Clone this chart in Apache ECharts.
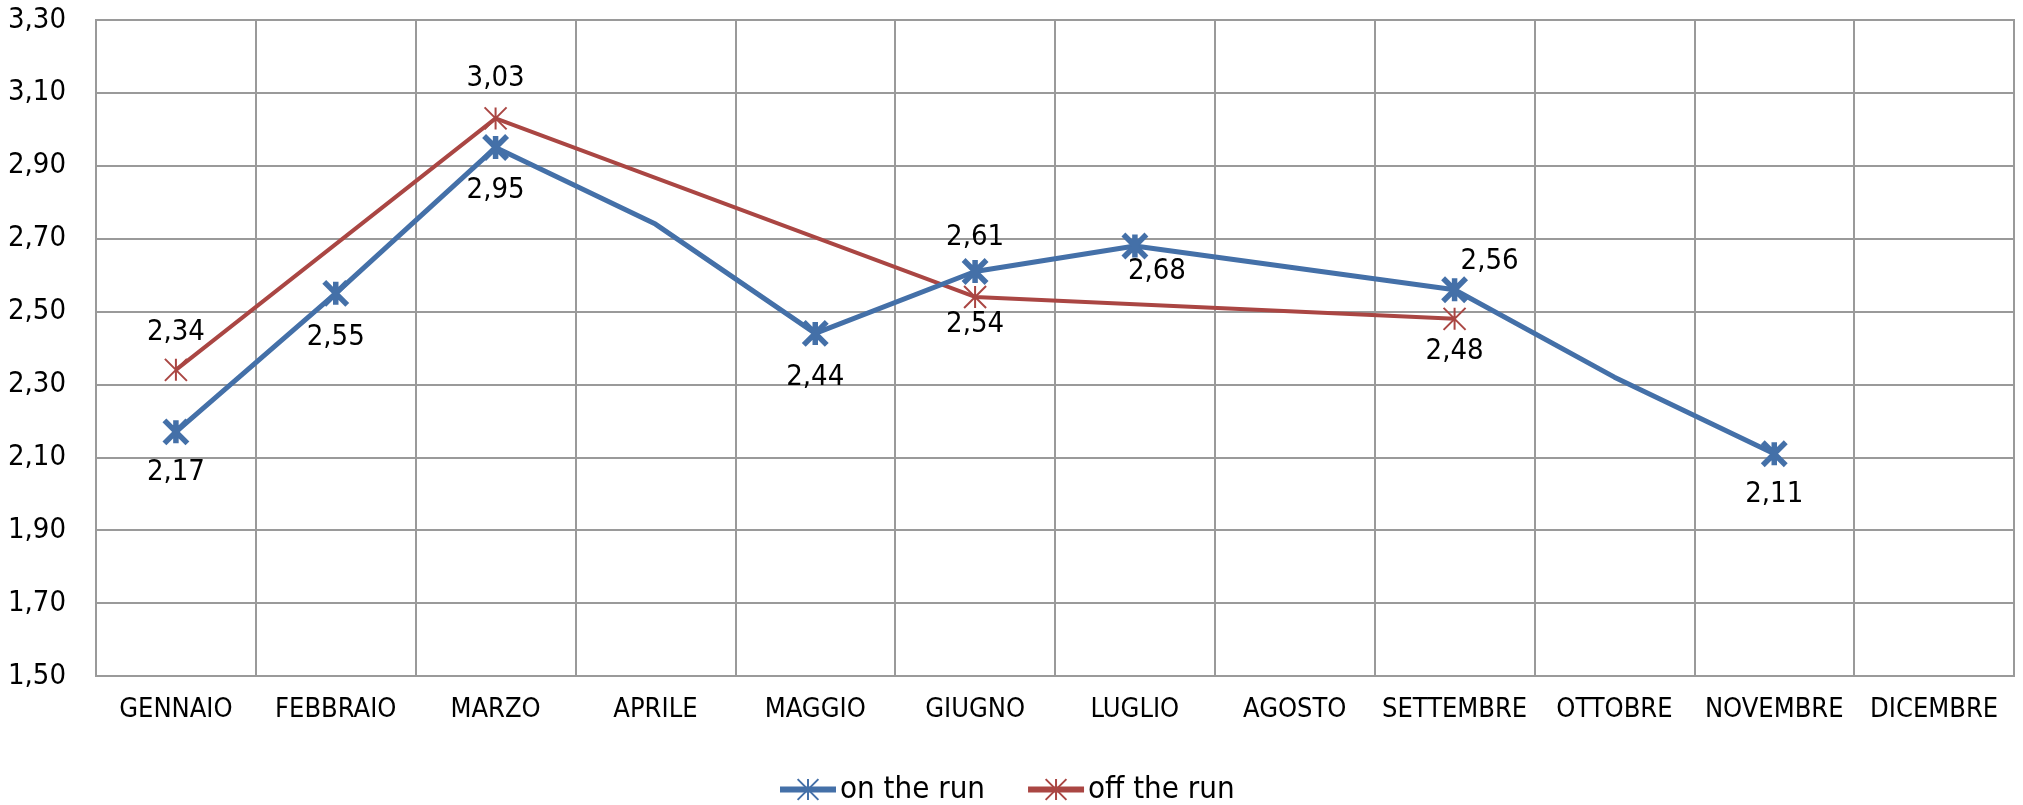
<!DOCTYPE html>
<html>
<head>
<meta charset="utf-8">
<script src="https://cdn.jsdelivr.net/npm/echarts@6/dist/echarts.min.js"></script>
<style>
html,body{margin:0;padding:0;background:#fff;}
#chart{width:2023px;height:805px;}
</style>
</head>
<body>
<div id="chart"></div>
<script>
const categories = ['GENNAIO','FEBBRAIO','MARZO','APRILE','MAGGIO','GIUGNO','LUGLIO','AGOSTO','SETTEMBRE','OTTOBRE','NOVEMBRE','DICEMBRE'];
const onTheRun  = [2.17, 2.55, 2.95, 2.74, 2.44, 2.61, 2.68, null, 2.56, 2.32, 2.11, null];
const offTheRun = [2.34, null, 3.03, null, null, 2.54, null, null, 2.48, null, null, null];
const seriesNames = ['on the run', 'off the run'];
// points drawn without marker / label
const onUnmarked = [3, 9];
// label placement per point: [position, distance, dx, dy]
const onLabelPlace = {0:['bottom',12,0,0],1:['bottom',15,0,0],2:['bottom',14,0,0],4:['bottom',15,0,0],5:['top',5,0,0],6:['bottom',-3,22,0],8:['top',3,35,4],10:['bottom',12,0,0]};
const offLabelPlace = {0:['top',11,0,0],2:['top',13,0,0],5:['bottom',1,0,0],8:['bottom',6,0,0]};

const FONT = "'DejaVu Sans Condensed', 'DejaVu Sans', sans-serif";
const BLUE = '#4470a8';
const RED = '#aa4643';
const fmt = v => Number(v).toFixed(2).replace('.', ',');
const STAR = 'path://M0,0L20,20M20,0L0,20M10,0L10,20';

function build(values, place, unmarked) {
  return values.map((v, i) => {
    if (v === null) return null;
    const item = { value: v };
    if (unmarked.indexOf(i) >= 0) {
      item.symbol = 'none';
      item.label = { show: false };
    } else if (place[i]) {
      const p = place[i];
      item.label = { show: true, position: p[0], distance: p[1], offset: [p[2], p[3]] };
    }
    return item;
  });
}

const chart = echarts.init(document.getElementById('chart'), null, {renderer: 'canvas'});
chart.setOption({
  animation: false,
  textStyle: { fontFamily: FONT },
  grid: { left: 96, right: 9, top: 20, bottom: 129, show: true, borderColor: '#9a9a9a', borderWidth: 2 },
  legend: {
    left: 772, top: 769,
    itemWidth: 56, itemHeight: 26, itemGap: 40,
    textStyle: { fontFamily: FONT, fontSize: 31, color: '#000', padding: [0, 0, 0, -1] },
    data: [
      { name: seriesNames[0], lineStyle: { width: 6 } },
      { name: seriesNames[1], lineStyle: { width: 6 } }
    ]
  },
  xAxis: {
    type: 'category',
    data: categories,
    boundaryGap: true,
    axisLine: { show: true, lineStyle: { color: '#9a9a9a', width: 2 } },
    axisTick: { show: false },
    splitLine: { show: true, lineStyle: { color: '#9a9a9a', width: 2 } },
    axisLabel: { color: '#000', fontSize: 27, fontFamily: FONT, margin: 20, interval: 0 }
  },
  yAxis: {
    type: 'value',
    min: 1.5, max: 3.3, interval: 0.2,
    axisLine: { show: true, lineStyle: { color: '#9a9a9a', width: 2 } },
    axisTick: { show: false },
    splitLine: { show: true, lineStyle: { color: '#9a9a9a', width: 2 } },
    axisLabel: { color: '#000', fontSize: 29, fontFamily: FONT, margin: 30, formatter: fmt }
  },
  series: [
    {
      name: seriesNames[0],
      type: 'line',
      connectNulls: true,
      data: build(onTheRun, onLabelPlace, onUnmarked),
      symbol: STAR,
      symbolSize: 23,
      showAllSymbol: true,
      lineStyle: { color: BLUE, width: 5 },
      itemStyle: { color: BLUE, borderColor: BLUE, borderWidth: 5.5 },
      label: { show: true, color: '#000', fontSize: 29, fontFamily: FONT, formatter: p => fmt(p.value) },
      z: 3
    },
    {
      name: seriesNames[1],
      type: 'line',
      connectNulls: true,
      data: build(offTheRun, offLabelPlace, []),
      symbol: STAR,
      symbolSize: 22,
      showAllSymbol: true,
      lineStyle: { color: RED, width: 4 },
      itemStyle: { color: RED, borderColor: RED, borderWidth: 2 },
      label: { show: true, color: '#000', fontSize: 29, fontFamily: FONT, formatter: p => fmt(p.value) },
      z: 2
    }
  ]
});
</script>
</body>
</html>
